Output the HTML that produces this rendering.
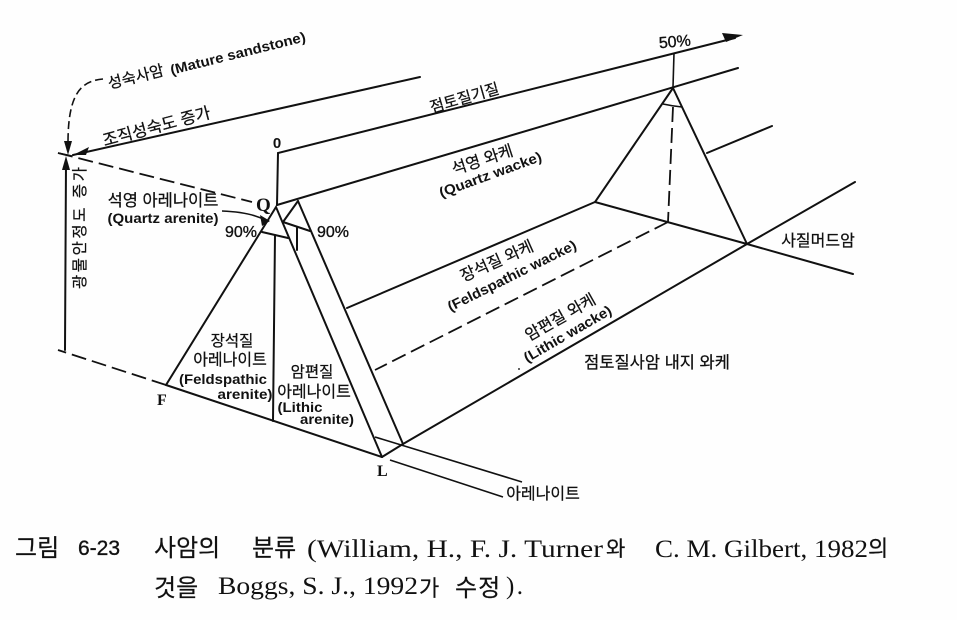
<!DOCTYPE html>
<html><head><meta charset="utf-8"><style>
html,body{margin:0;padding:0;background:#fefefe}
svg{display:block}
.l{stroke:#111;stroke-width:2;fill:none;stroke-linecap:round}
.t{stroke:#111;stroke-width:1.6;fill:none}
.d{stroke:#111;stroke-width:1.8;fill:none;stroke-dasharray:15 6}
text{fill:#111}
.k{font-family:"Liberation Sans","Noto Sans CJK KR",sans-serif;font-size:15.5px;text-anchor:middle;stroke:#111;stroke-width:.25}
.e{font-family:"Liberation Sans","Noto Sans CJK KR",sans-serif;font-size:14px;font-weight:700;text-anchor:middle}
.c{font-family:"Liberation Serif",serif;font-size:25px}
.s{font-family:"Noto Sans CJK KR","Liberation Sans",sans-serif;font-size:24px;stroke:#111;stroke-width:.2}
.p{font-family:"Liberation Sans",sans-serif;font-size:16px;font-weight:400;stroke:#111;stroke-width:.35}
</style></head><body>
<svg width="957" height="620" viewBox="0 0 957 620" xmlns="http://www.w3.org/2000/svg">
<rect width="957" height="620" fill="#fefefe"/>
<path class="l" d="M73 155L420 77"/>
<path class="l" d="M277 205L278 153L735 38"/>
<polygon points="743,35 722,33 726,42" fill="#111"/>
<path class="l" d="M277 205L738 68"/>
<path class="t" d="M674 53L673 87"/>
<path class="l" d="M673 88L595 202L747 244L853 274"/>
<path class="l" d="M673 88L747 244"/>
<path class="l" d="M707 153L772 126"/>
<path class="l" d="M747 244L855 182"/>
<path class="l" d="M747 244L403 444"/>
<path class="t" d="M663 104Q672 106 682 107"/>
<path class="d" d="M673 107L668 222"/>
<path class="l" d="M595 202L347 308"/>
<path class="d" d="M668 222L375 370"/>
<path class="l" d="M166 385L276 207L382 457"/>
<path class="l" d="M298 201L403 444"/>
<path class="l" d="M283 222L298 201"/>
<path class="l" d="M166 385L382 457"/>
<path class="t" d="M390 460L503 497"/>
<path class="t" d="M375 437L522 482"/>
<path class="l" d="M382 457L403 444"/>
<path class="l" d="M275 235L273 421"/>
<path class="l" d="M262 232L288 238"/>
<path class="l" d="M283 222L310 231"/>
<path class="l" d="M297 228L297 250"/>
<path class="d" d="M166 385L58 350"/>
<path class="l" d="M66 162L65 350"/>
<polygon points="66,156 62,170 70,170" fill="#111"/>
<path class="d" d="M58 153L252 202"/>
<path class="t" d="M58 153L72 156"/>
<polygon points="73,155 89,147 86,155" fill="#111"/>
<path class="t" d="M103 79C80 81 68 95 68 143" style="stroke-dasharray:8 4"/>
<polygon points="68,155 64,141 72,141" fill="#111"/>
<path class="t" d="M222 211Q250 212 265 220"/>
<polygon points="270,221 260,215 262,226" fill="#111"/>
<circle cx="519" cy="369" r="1" fill="#333"/>

<text class="k" transform="translate(137 82) rotate(-14)">성숙사암</text>
<text class="e" textLength="139" lengthAdjust="spacingAndGlyphs" transform="translate(239 58) rotate(-14)">(Mature sandstone)</text>
<text class="k" style="font-size:16.5px" transform="translate(158 132) rotate(-15)">조직성숙도 증가</text>
<text class="k" style="font-size:15.5px" transform="translate(466 103) rotate(-16)">점토질기질</text>
<text class="e" style="font-size:15px" x="277" y="148">0</text>
<text class="p" x="659" y="47" transform="rotate(-5 674 44)">50%</text>
<text class="k" style="font-size:16.5px" x="163" y="206">석영 아레나이트</text>
<text class="e" textLength="111" lengthAdjust="spacingAndGlyphs" x="163" y="223">(Quartz arenite)</text>
<text style="font:700 19px 'Liberation Serif',serif" x="256" y="211">Q</text>
<text class="p" x="225" y="237">90%</text>
<text class="p" x="317" y="237">90%</text>
<text class="k" x="232" y="346">장석질</text>
<text class="k" style="font-size:16px" x="230" y="365">아레나이트</text>
<text class="e" textLength="88" lengthAdjust="spacingAndGlyphs" x="223" y="384">(Feldspathic</text>
<text class="e" textLength="55" lengthAdjust="spacingAndGlyphs" x="245" y="399">arenite)</text>
<text class="k" x="312" y="377">암편질</text>
<text class="k" style="font-size:16px" x="314" y="397">아레나이트</text>
<text class="e" textLength="45" lengthAdjust="spacingAndGlyphs" x="300" y="412">(Lithic</text>
<text class="e" textLength="54" lengthAdjust="spacingAndGlyphs" x="327" y="424">arenite)</text>
<text style="font:700 16px 'Liberation Serif',serif" x="157" y="405">F</text>
<text style="font:700 16px 'Liberation Serif',serif" x="377" y="476">L</text>
<text class="k" style="font-size:16px" transform="translate(484 165) rotate(-18)">석영 와케</text>
<text class="e" textLength="108" lengthAdjust="spacingAndGlyphs" transform="translate(492 179) rotate(-20)">(Quartz wacke)</text>
<text class="k" style="font-size:16px" transform="translate(499 266) rotate(-24)">장석질 와케</text>
<text class="e" textLength="142" lengthAdjust="spacingAndGlyphs" transform="translate(514 280) rotate(-26.5)">(Feldspathic wacke)</text>
<text class="k" style="font-size:16px" transform="translate(563 322) rotate(-29.5)">암편질 와케</text>
<text class="e" textLength="99" lengthAdjust="spacingAndGlyphs" transform="translate(570 338) rotate(-30)">(Lithic wacke)</text>
<text class="k" style="font-size:16.5px" x="657" y="368">점토질사암 내지 와케</text>
<text class="k" style="font-size:16px" x="818" y="246">사질머드암</text>
<text class="k" style="font-size:16px" x="543" y="499">아레나이트</text>
<text class="k" textLength="122" transform="translate(85 228) rotate(-90)">광물안정도 증가</text>

<text class="s" x="15" y="556">그림</text>
<text class="p" style="font-size:21px" x="78" y="555">6-23</text>
<text class="s" x="154" y="556">사암의</text>
<text class="s" x="252" y="556">분류</text>
<text class="c" x="307" y="557" textLength="296" lengthAdjust="spacingAndGlyphs">(William, H., F. J. Turner</text>
<text class="s" style="font-size:21px" x="606" y="556">와</text>
<text class="c" x="655" y="557" textLength="213" lengthAdjust="spacingAndGlyphs">C. M. Gilbert, 1982</text>
<text class="s" style="font-size:22px" x="868" y="556">의</text>
<text class="s" x="154" y="596">것을</text>
<text class="c" x="218" y="594" textLength="200" lengthAdjust="spacingAndGlyphs">Boggs, S. J., 1992</text>
<text class="s" style="font-size:22px" x="419" y="596">가</text>
<text class="s" x="455" y="596" style="letter-spacing:1px">수정</text>
<text class="c" x="506" y="594" textLength="17">).</text>
</svg>
</body></html>
